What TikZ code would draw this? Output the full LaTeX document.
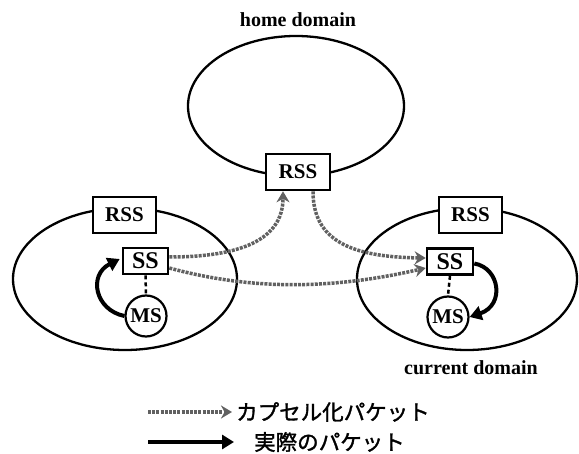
\documentclass[tikz,border=0pt]{standalone}
\usepackage{fontspec}
\setmainfont{Liberation Serif}
\newfontfamily\jp[FakeBold=1.5]{Noto Sans CJK JP}
\usetikzlibrary{arrows.meta}
\begin{document}
\begin{tikzpicture}[x=1pt,y=-1pt,
  domainline/.style={draw,line width=2.3pt},
  srvbox/.style={draw,line width=2.6pt,fill=white,inner sep=0pt,font=\fontsize{21}{21}\bfseries\selectfont},
  ssbox/.style={srvbox,font=\fontsize{24}{24}\bfseries\selectfont},
  mscirc/.style={draw,circle,line width=2.2pt,fill=white,inner sep=0pt,minimum size=41pt,font=\fontsize{21}{21}\bfseries\selectfont},
  lbl/.style={font=\fontsize{20}{20}\bfseries\selectfont,inner sep=0pt},
  encap/.style={draw=black!62,line width=3.5pt,dash pattern=on 3pt off 1.2pt,-{Stealth[length=11pt,width=13pt,fill=black!62]}},
  real/.style={draw,line width=4pt,-{Triangle[length=12pt,width=14pt]}},
  link/.style={draw,line width=2.5pt,dash pattern=on 4pt off 3pt},
  jptext/.style={font=\jp\fontsize{21.5}{21.5}\selectfont,inner sep=0pt,anchor=west}]
\useasboundingbox (0,0) rectangle (579,454);
% domains
\draw[domainline] (296,106) ellipse [x radius=108, y radius=70];
\draw[domainline] (125,279) ellipse [x radius=112, y radius=71];
\draw[domainline] (467,279) ellipse [x radius=110, y radius=71];
% labels
\node[lbl] (home) at (298,20) {home domain};
\node[lbl] (cur) at (471,368) {current domain};
% servers
\node[srvbox,minimum width=64pt,minimum height=36pt] (hrss) at (298,172) {RSS};
\node[srvbox,minimum width=63pt,minimum height=36pt] (lrss) at (124.5,215) {RSS};
\node[srvbox,minimum width=63pt,minimum height=36pt] (rrss) at (470.5,215) {RSS};
\node[ssbox,minimum width=45pt,minimum height=26pt] (lss) at (145.5,261) {SS};
\node[ssbox,minimum width=46pt,minimum height=26pt] (rss) at (450,261.5) {SS};
\node[mscirc] (lms) at (146,316) {MS};
\node[mscirc] (rms) at (448,317) {MS};
% ss-ms links
\draw[link] (lss.south) -- (lms.north);
\draw[link] (rss.south) -- (rms.north);
% encapsulated packets
\draw[encap] ([yshift=4pt]lss.east) .. controls (240,257) and (283,240) .. ([xshift=-15pt]hrss.south);
\draw[encap] ([xshift=15pt]hrss.south) .. controls (313,240) and (350,257) .. ([yshift=3.5pt]rss.west);
\draw[encap] ([yshift=-7pt]lss.east) .. controls (250,290) and (330,290) .. ([yshift=-6.5pt]rss.west);
% real packets
\draw[real] (lms.west) .. controls (95,310) and (88,275) .. ([xshift=-2pt,yshift=2pt]lss.west);
\draw[real] ([yshift=-2pt]rss.east) .. controls (500,268) and (505,305) .. (rms.east);
% legend
\coordinate (e1) at (148,412);
\coordinate (e2) at (232,412);
\coordinate (r1) at (148,442);
\coordinate (r2) at (234,442);
\draw[encap] (e1) -- (e2);
\draw[real] (r1) -- (r2);
\node[jptext] (t1) at (236,412) {カプセル化パケット};
\node[jptext] (t2) at (254,442) {実際のパケット};
\end{tikzpicture}
\end{document}
